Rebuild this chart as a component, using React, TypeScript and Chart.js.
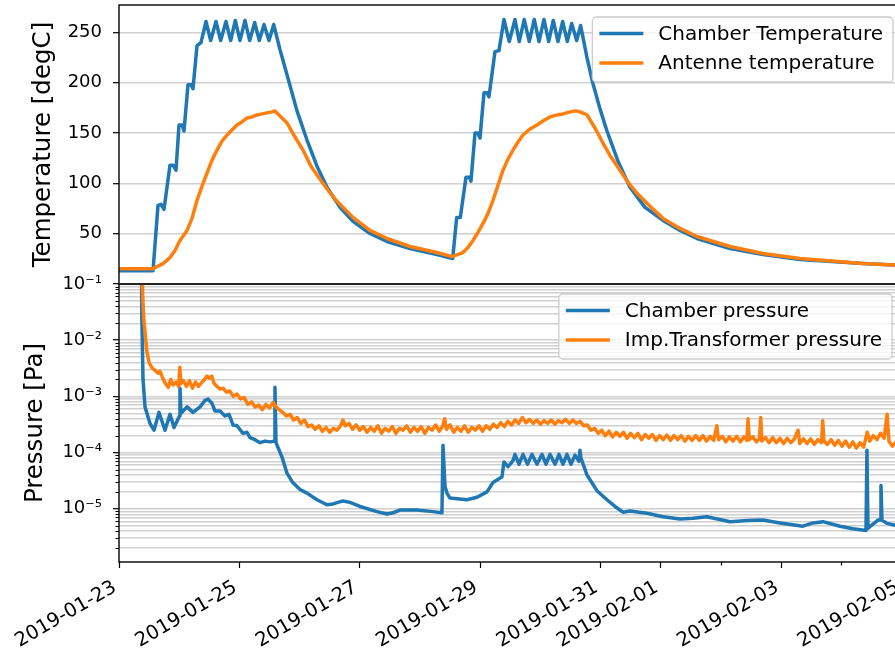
import React, { useEffect, useRef } from 'react';
import { Chart, registerables } from 'chart.js';

Chart.register(...registerables);

// ---------- axes / ticks ----------
const START_DATE = '2019-01-23';
const majorDateTicks = ['2019-01-23', '2019-01-25', '2019-01-27', '2019-01-29', '2019-01-31', '2019-02-01', '2019-02-03', '2019-02-05'];
const minorDateTicks = ['2019-02-02', '2019-02-04'];
const VIEW_END_DAY = 13.057;

const temperatureTicks = [50, 100, 150, 200, 250];
const TEMP_MIN = -0.3;
const TEMP_MAX = 277.4;

const pressureDecades = [1e-5, 1e-4, 1e-3, 1e-2, 1e-1];
const pressureTickLabels = ['10⁻⁵', '10⁻⁴', '10⁻³', '10⁻²', '10⁻¹'];
const PRESSURE_MIN = 1.13e-6;
const PRESSURE_MAX = 0.1;

// ---------- temperature data (days since 2019-01-23, degC) ----------
const chamberTempDay = [0, 0.565, 0.648, 0.698, 0.748, 0.847, 0.897, 0.947, 0.997, 1.047, 1.08, 1.146, 1.196, 1.229, 1.296, 1.362,
  1.445, 1.523, 1.611, 1.689, 1.777, 1.855, 1.932, 2.01, 2.093, 2.171, 2.254, 2.331, 2.409, 2.492, 2.57,
  2.674, 2.791, 2.957, 3.123, 3.289, 3.455, 3.671, 3.887, 4.169, 4.452, 4.834, 5.282, 5.543,
  5.61, 5.67, 5.764, 5.822, 5.847, 5.914, 5.963, 5.997, 6.063, 6.113, 6.146, 6.246, 6.312,
  6.395, 6.483, 6.578, 6.649, 6.732, 6.815, 6.898, 6.977, 7.06, 7.138, 7.214, 7.292, 7.37, 7.447, 7.52, 7.603, 7.669,
  7.774, 7.874, 7.99, 8.106, 8.289, 8.488, 8.738, 9.037, 9.319, 9.601, 10.15, 10.698, 11.312, 12.359, 13.05];
const chamberTempC = [13, 13, 78, 79, 74, 118, 118, 113, 158, 158, 152, 198, 198, 194, 237, 240,
  261, 242, 261, 242, 261, 242, 262, 242, 262, 242, 260, 242, 258, 242, 258,
  233, 208, 172, 143, 117, 96, 76, 62, 50, 42, 35, 29, 25,
  66, 66, 106, 106, 102, 150, 150, 145, 190, 190, 186, 231, 232,
  263, 241, 263, 241, 263, 241, 263, 241, 263, 241, 262, 241, 261, 241, 259, 242, 257,
  225, 199, 174, 152, 122, 96, 76, 63, 53, 45, 35, 29, 24, 20, 18];

const antennaTempDay = [0, 0.565, 0.631, 0.731, 0.847, 0.93, 1.013, 1.13, 1.213, 1.296, 1.379, 1.462, 1.545, 1.628, 1.711, 1.794, 1.877,
  1.96, 2.043, 2.126, 2.209, 2.292, 2.375, 2.458, 2.542, 2.591, 2.674, 2.791, 2.924, 3.056, 3.189, 3.339, 3.472, 3.621,
  3.887, 4.169, 4.452, 4.834, 5.282, 5.532, 5.714, 5.797, 5.88, 5.963, 6.047, 6.13, 6.213, 6.296, 6.379, 6.462, 6.545,
  6.628, 6.711, 6.827, 6.944, 7.043, 7.159, 7.276, 7.375, 7.492, 7.591, 7.658, 7.774, 7.907, 8.04, 8.173, 8.322, 8.455,
  8.605, 8.821, 9.037, 9.319, 9.601, 10.15, 10.698, 11.312, 12.359, 13.05];
const antennaTempC = [15, 15, 17, 20, 26, 33, 43, 53, 65, 83, 97, 110, 123, 133, 142, 148, 153,
  158, 161, 165, 166, 168, 169, 170, 171, 172, 167, 160, 146, 133, 117, 104, 93, 82,
  66, 53, 45, 37, 31, 27, 31, 36, 43, 51, 60, 70, 83, 98, 113, 124, 133,
  141, 148, 154, 158, 162, 166, 168, 169, 171, 172, 171, 168, 155, 140, 126, 113, 101,
  90, 77, 65, 55, 47, 37, 30, 25, 20, 18];

// ---------- pressure data (days since 2019-01-23, Pa) ----------
const chamberPressDay = [0.37, 0.374, 0.382, 0.399, 0.432, 0.515, 0.581, 0.664, 0.764, 0.847, 0.914, 1.005, 1.013, 1.03,
  1.13, 1.229, 1.346, 1.429, 1.478, 1.545, 1.595, 1.678, 1.761, 1.827, 1.894, 1.96, 2.06, 2.126, 2.176, 2.259, 2.342,
  2.425, 2.508, 2.575, 2.591, 2.608, 2.708, 2.791, 2.89, 3.007, 3.123, 3.289, 3.455, 3.555, 3.721, 3.837, 4.003,
  4.286, 4.452, 4.552, 4.668, 4.95, 5.216, 5.365, 5.382, 5.415, 5.449, 5.498, 5.781, 5.947, 6.113, 6.213, 6.279,
  6.362, 6.395, 6.462, 6.545, 6.578, 6.645, 6.711, 6.786, 6.86, 6.944, 7.027, 7.093, 7.159, 7.243, 7.309, 7.375,
  7.442, 7.508, 7.575, 7.641, 7.658, 7.674, 7.774, 7.94, 8.106, 8.239, 8.372, 8.488, 8.771, 9.037, 9.319, 9.535,
  9.767, 10.15, 10.432, 10.698, 10.98, 11.362, 11.528, 11.694, 11.977, 12.193, 12.409, 12.425, 12.442, 12.475,
  12.608, 12.65, 12.658, 12.674, 12.757, 12.89, 13.05];
const chamberPressPa = [100, 100, 0.03, 2e-3, 6.5e-4, 3.3e-4, 2.5e-4, 5.2e-4, 2.5e-4, 4.8e-4, 2.8e-4, 4.5e-4, 1.4e-3, 5e-4,
  6.5e-4, 5.2e-4, 6.5e-4, 8.5e-4, 9e-4, 7.5e-4, 5.5e-4, 5.5e-4, 4.5e-4, 4.8e-4, 3.1e-4, 3.0e-4, 2.2e-4, 2.3e-4, 1.85e-4, 1.7e-4, 1.5e-4,
  1.6e-4, 1.55e-4, 1.6e-4, 1.45e-3, 1.5e-4, 8.3e-5, 4.3e-5, 2.9e-5, 2.2e-5, 1.9e-5, 1.45e-5, 1.18e-5, 1.22e-5, 1.38e-5, 1.3e-5, 1.1e-5,
  8.9e-6, 8.1e-6, 8.5e-6, 9.5e-6, 9.5e-6, 8.9e-6, 8.5e-6, 1.35e-4, 2.5e-5, 1.9e-5, 1.55e-5, 1.45e-5, 1.6e-5, 2.0e-5, 2.95e-5, 3.25e-5,
  3.7e-5, 6.8e-5, 5.6e-5, 7.2e-5, 9.3e-5, 6.2e-5, 9.3e-5, 6.2e-5, 9.3e-5, 6.2e-5, 9.3e-5, 6.2e-5, 9.3e-5, 6.2e-5, 9.3e-5, 6.2e-5,
  9.3e-5, 6.2e-5, 9.0e-5, 7e-5, 1.1e-4, 8e-5, 4.0e-5, 2.1e-5, 1.45e-5, 1.1e-5, 8.7e-6, 9.1e-6, 8.3e-6, 7.2e-6, 6.6e-6, 6.8e-6,
  7.2e-6, 5.9e-6, 6.2e-6, 6.3e-6, 5.6e-6, 4.9e-6, 5.6e-6, 5.9e-6, 4.9e-6, 4.4e-6, 4.1e-6, 1.1e-4, 4.5e-6, 4.8e-6,
  6.3e-6, 6.3e-6, 2.6e-5, 6.3e-6, 5.5e-6, 5.1e-6, 5.0e-6];

const transformerPressDay = [0.37, 0.385, 0.39, 0.41, 0.43, 0.46, 0.5, 0.55, 0.6, 0.65, 0.68, 0.72, 0.77, 0.82, 0.86, 0.9, 0.95, 0.99,
  1.01, 1.03, 1.07, 1.12, 1.17, 1.22, 1.27, 1.32, 1.37, 1.42, 1.46, 1.5, 1.54, 1.58, 1.63, 1.68, 1.73, 1.78, 1.84, 1.9, 1.96,
  2.02, 2.08, 2.14, 2.2, 2.26, 2.32, 2.38, 2.44, 2.5, 2.56, 2.61, 2.66, 2.72, 2.78, 2.84, 2.9, 2.96, 3.02, 3.08, 3.14, 3.2,
  3.26, 3.32, 3.38, 3.44, 3.5, 3.56, 3.62, 3.68, 3.72, 3.76, 3.82, 3.88, 3.94, 4.0, 4.06, 4.12, 4.18, 4.24, 4.3, 4.36, 4.42,
  4.48, 4.54, 4.6, 4.66, 4.72, 4.78, 4.84, 4.9, 4.96, 5.02, 5.08, 5.14, 5.2, 5.26, 5.32, 5.38, 5.41, 5.44, 5.5, 5.56, 5.62,
  5.68, 5.74, 5.8, 5.86, 5.92, 5.98, 6.04, 6.1, 6.16, 6.22, 6.28, 6.34, 6.4, 6.46, 6.52, 6.58, 6.64, 6.7, 6.76, 6.82, 6.88,
  6.94, 7.0, 7.06, 7.12, 7.18, 7.24, 7.3, 7.36, 7.42, 7.48, 7.54, 7.6, 7.66, 7.72, 7.78, 7.84, 7.9, 7.96, 8.02, 8.08, 8.14,
  8.2, 8.26, 8.32, 8.38, 8.44, 8.5, 8.56, 8.62, 8.68, 8.74, 8.8, 8.86, 8.92, 8.98, 9.04, 9.1, 9.16, 9.22, 9.28, 9.34, 9.4,
  9.46, 9.52, 9.58, 9.64, 9.7, 9.76, 9.82, 9.88, 9.93, 9.96, 10.02, 10.08, 10.14, 10.2, 10.26, 10.32, 10.38, 10.43, 10.45,
  10.47, 10.53, 10.59, 10.64, 10.66, 10.68, 10.74, 10.8, 10.86, 10.92, 10.98, 11.04, 11.1, 11.16, 11.22, 11.28, 11.31, 11.37,
  11.43, 11.49, 11.55, 11.61, 11.67, 11.69, 11.71, 11.77, 11.83, 11.89, 11.95, 12.01, 12.07, 12.13, 12.19, 12.25, 12.31,
  12.37, 12.43, 12.47, 12.53, 12.59, 12.65, 12.71, 12.76, 12.79, 12.85, 12.91, 12.97, 13.03];
const transformerPressPa = [100, 100, 0.08, 0.025, 0.015, 6.6e-3, 4.0e-3, 3.2e-3, 2.9e-3, 2.6e-3, 2.8e-3, 2.2e-3, 1.7e-3, 1.45e-3, 2.0e-3, 1.6e-3, 1.8e-3, 1.5e-3,
  3.3e-3, 1.7e-3, 1.9e-3, 1.5e-3, 1.9e-3, 1.4e-3, 1.8e-3, 1.5e-3, 1.75e-3, 2.0e-3, 2.3e-3, 2.1e-3, 2.3e-3, 1.7e-3, 1.5e-3, 1.35e-3, 1.4e-3, 1.2e-3, 1.25e-3, 1.0e-3, 1.1e-3,
  0.9e-3, 0.95e-3, 0.72e-3, 0.8e-3, 0.65e-3, 0.7e-3, 0.58e-3, 0.72e-3, 0.62e-3, 0.78e-3, 0.65e-3, 0.58e-3, 0.52e-3, 0.45e-3, 0.48e-3, 0.38e-3, 0.42e-3, 0.33e-3, 0.38e-3, 0.29e-3, 0.31e-3,
  0.26e-3, 0.3e-3, 0.24e-3, 0.28e-3, 0.23e-3, 0.27e-3, 0.25e-3, 0.3e-3, 0.38e-3, 0.3e-3, 0.33e-3, 0.26e-3, 0.31e-3, 0.25e-3, 0.29e-3, 0.23e-3, 0.28e-3, 0.24e-3, 0.3e-3, 0.22e-3, 0.27e-3,
  0.24e-3, 0.29e-3, 0.22e-3, 0.27e-3, 0.25e-3, 0.3e-3, 0.23e-3, 0.28e-3, 0.24e-3, 0.29e-3, 0.22e-3, 0.28e-3, 0.25e-3, 0.31e-3, 0.24e-3, 0.3e-3, 0.4e-3, 0.26e-3, 0.31e-3, 0.23e-3, 0.28e-3,
  0.24e-3, 0.3e-3, 0.23e-3, 0.28e-3, 0.25e-3, 0.3e-3, 0.24e-3, 0.3e-3, 0.26e-3, 0.32e-3, 0.28e-3, 0.34e-3, 0.29e-3, 0.36e-3, 0.31e-3, 0.38e-3, 0.33e-3, 0.42e-3, 0.34e-3, 0.39e-3, 0.33e-3,
  0.38e-3, 0.32e-3, 0.37e-3, 0.33e-3, 0.38e-3, 0.32e-3, 0.37e-3, 0.34e-3, 0.39e-3, 0.33e-3, 0.38e-3, 0.33e-3, 0.36e-3, 0.3e-3, 0.31e-3, 0.25e-3, 0.27e-3, 0.22e-3, 0.25e-3, 0.2e-3, 0.24e-3,
  0.19e-3, 0.23e-3, 0.195e-3, 0.23e-3, 0.18e-3, 0.22e-3, 0.185e-3, 0.22e-3, 0.17e-3, 0.21e-3, 0.18e-3, 0.21e-3, 0.165e-3, 0.2e-3, 0.17e-3, 0.205e-3, 0.165e-3, 0.2e-3, 0.17e-3, 0.2e-3, 0.16e-3,
  0.195e-3, 0.165e-3, 0.2e-3, 0.165e-3, 0.2e-3, 0.16e-3, 0.195e-3, 0.165e-3, 0.3e-3, 0.17e-3, 0.195e-3, 0.155e-3, 0.19e-3, 0.16e-3, 0.195e-3, 0.155e-3, 0.19e-3, 0.165e-3, 0.4e-3,
  0.17e-3, 0.19e-3, 0.155e-3, 0.18e-3, 0.42e-3, 0.16e-3, 0.185e-3, 0.15e-3, 0.185e-3, 0.15e-3, 0.18e-3, 0.145e-3, 0.18e-3, 0.15e-3, 0.175e-3, 0.25e-3, 0.145e-3, 0.175e-3,
  0.145e-3, 0.175e-3, 0.14e-3, 0.17e-3, 0.15e-3, 0.37e-3, 0.16e-3, 0.14e-3, 0.17e-3, 0.135e-3, 0.165e-3, 0.13e-3, 0.16e-3, 0.125e-3, 0.155e-3, 0.12e-3, 0.15e-3,
  0.125e-3, 0.23e-3, 0.16e-3, 0.2e-3, 0.17e-3, 0.22e-3, 0.18e-3, 0.48e-3, 0.16e-3, 0.13e-3, 0.155e-3, 0.14e-3, 0.15e-3];

// ---------- helpers ----------
const BLUE = '#1f77b4';
const ORANGE = '#ff7f0e';
const FONT = '"DejaVu Sans", "Liberation Sans", sans-serif';

const dayOf = (s: string) => (Date.parse(s + 'T00:00:00Z') - Date.parse(START_DATE + 'T00:00:00Z')) / 864e5;
const pts = (xs: number[], ys: number[]) => xs.map((x, i) => ({ x, y: ys[i] }));
const isDecade = (v: number) => Math.abs(Math.log10(v) - Math.round(Math.log10(v))) < 1e-6;

const lineStyle = (color: string) => ({
  borderColor: color,
  backgroundColor: color,
  borderWidth: 3.5,
  pointRadius: 0,
  tension: 0,
  borderJoinStyle: 'round' as const,
  borderCapStyle: 'butt' as const,
  fill: false,
});

const noPad = (s: any) => {
  s.paddingLeft = 0;
  s.paddingRight = 0;
  s.paddingTop = 0;
  s.paddingBottom = 0;
};

const framePlugin = {
  id: 'frame',
  afterDatasetsDraw(chart: any) {
    const { ctx, chartArea: a } = chart;
    ctx.save();
    ctx.strokeStyle = '#000';
    ctx.lineWidth = 1.4;
    ctx.strokeRect(a.left, a.top, a.right - a.left, a.bottom - a.top);
    ctx.restore();
  },
};

const makeLegend = (offRight: number, offTop: number) => ({
  id: 'boxLegend',
  afterDraw(chart: any) {
    const { ctx, chartArea } = chart;
    ctx.save();
    ctx.font = `20px ${FONT}`;
    const items = chart.data.datasets;
    const textW = Math.max(...items.map((d: any) => ctx.measureText(d.label).width));
    const padL = 7, handleW = 44, gap = 15, padR = 10, rowH = 29.5, padT = 16.5, h = 65;
    const w = padL + handleW + gap + textW + padR;
    const right = chartArea.right - offRight;
    const top = chartArea.top + offTop;
    const left = right - w;
    ctx.beginPath();
    ctx.roundRect(left, top, w, h, 4);
    ctx.fillStyle = 'rgba(255,255,255,0.8)';
    ctx.fill();
    ctx.strokeStyle = '#cccccc';
    ctx.lineWidth = 1.3;
    ctx.stroke();
    items.forEach((d: any, i: number) => {
      const y = top + padT + i * rowH;
      ctx.beginPath();
      ctx.moveTo(left + padL, y);
      ctx.lineTo(left + padL + handleW, y);
      ctx.strokeStyle = d.borderColor;
      ctx.lineWidth = 3.5;
      ctx.stroke();
      ctx.fillStyle = '#000';
      ctx.textBaseline = 'middle';
      ctx.textAlign = 'left';
      ctx.fillText(d.label, left + padL + handleW + gap, y + 1);
    });
    ctx.restore();
  },
});

const minorTickPlugin = {
  id: 'minorTicks',
  afterDatasetsDraw(chart: any) {
    const { ctx, chartArea: a } = chart;
    const ys = chart.scales.y;
    const xs = chart.scales.x;
    ctx.save();
    ctx.strokeStyle = '#000';
    ctx.lineWidth = 1.2;
    ctx.beginPath();
    ys.ticks.forEach((t: any) => {
      if (!isDecade(t.value)) {
        const py = Math.round(ys.getPixelForValue(t.value)) + 0.5;
        ctx.moveTo(a.left - 3.5, py);
        ctx.lineTo(a.left, py);
      }
    });
    minorDateTicks.forEach((s) => {
      const px = Math.round(xs.getPixelForValue(dayOf(s))) + 0.5;
      ctx.moveTo(px, a.bottom);
      ctx.lineTo(px, a.bottom + 3.5);
    });
    ctx.stroke();
    ctx.restore();
  },
};

const GRID = 'rgba(176,176,176,0.6)';

export default function App() {
  const topRef = useRef<HTMLCanvasElement>(null);
  const botRef = useRef<HTMLCanvasElement>(null);

  useEffect(() => {
    const xCommon = { type: 'linear' as const, min: 0, max: VIEW_END_DAY };

    const top = new Chart(topRef.current!, {
      type: 'line',
      data: {
        datasets: [
          { label: 'Chamber Temperature', data: pts(chamberTempDay, chamberTempC), order: 1, ...lineStyle(BLUE) },
          { label: 'Antenne temperature', data: pts(antennaTempDay, antennaTempC), order: 0, ...lineStyle(ORANGE) },
        ],
      },
      options: {
        responsive: false,
        animation: false,
        devicePixelRatio: 1,
        events: [],
        layout: { padding: { top: 5, bottom: 6, left: 0, right: 5 } },
        plugins: { legend: { display: false }, tooltip: { enabled: false } },
        scales: {
          x: { ...xCommon, display: false, afterFit: noPad },
          y: {
            type: 'linear',
            min: TEMP_MIN,
            max: TEMP_MAX,
            afterBuildTicks: (s: any) => { s.ticks = temperatureTicks.map((v) => ({ value: v })); },
            afterFit: (s: any) => { s.width = 119; noPad(s); },
            border: { display: false },
            grid: { color: GRID, lineWidth: 1.4, tickColor: '#000', tickLength: 6, tickWidth: 1.2 },
            ticks: { font: { family: FONT, size: 18 }, color: '#000', padding: 11, callback: (v: any) => String(v) },
            title: { display: true, text: 'Temperature [degC]', font: { family: FONT, size: 24.5 }, color: '#000', padding: { top: 29, bottom: 0 } },
          },
        },
      },
      plugins: [framePlugin, makeLegend(12, 12)],
    });

    const pressureTickValues: number[] = [];
    for (let e = -7; e <= -2; e++) {
      for (let m = 1; m <= 9; m++) {
        const v = Number((m * Math.pow(10, e)).toPrecision(3));
        if (v >= PRESSURE_MIN && v <= PRESSURE_MAX) pressureTickValues.push(v);
      }
    }
    pressureTickValues.push(PRESSURE_MAX);

    const majorDays = majorDateTicks.map(dayOf);
    const allDateDays = [...majorDays, ...minorDateTicks.map(dayOf)].sort((a, b) => a - b);

    const bot = new Chart(botRef.current!, {
      type: 'line',
      data: {
        datasets: [
          { label: 'Chamber pressure', data: pts(chamberPressDay, chamberPressPa), order: 1, ...lineStyle(BLUE) },
          { label: 'Imp.Transformer pressure', data: pts(transformerPressDay, transformerPressPa), order: 0, ...lineStyle(ORANGE) },
        ],
      },
      options: {
        responsive: false,
        animation: false,
        devicePixelRatio: 1,
        events: [],
        layout: { padding: { top: 24, bottom: 0, left: 0, right: 5 } },
        plugins: { legend: { display: false }, tooltip: { enabled: false } },
        scales: {
          x: {
            ...xCommon,
            afterBuildTicks: (s: any) => { s.ticks = allDateDays.map((v) => ({ value: v })); },
            afterFit: (s: any) => { s.height = 92; noPad(s); },
            border: { display: false },
            grid: {
              drawOnChartArea: false,
              drawTicks: true,
              tickLength: 6,
              tickWidth: 1.2,
              tickColor: (c: any) => (majorDays.some((d) => Math.abs(d - c.tick?.value) < 1e-6) ? '#000' : 'rgba(0,0,0,0)'),
            },
            ticks: {
              autoSkip: false,
              minRotation: 30,
              maxRotation: 30,
              padding: 8,
              labelOffset: -4,
              font: { family: FONT, size: 19.5 },
              color: '#000',
              callback: (v: any) => {
                const i = majorDays.findIndex((d) => Math.abs(d - v) < 1e-6);
                return i >= 0 ? majorDateTicks[i] : '';
              },
            },
          },
          y: {
            type: 'logarithmic',
            min: PRESSURE_MIN,
            max: PRESSURE_MAX,
            afterBuildTicks: (s: any) => { s.ticks = pressureTickValues.map((v) => ({ value: v, major: isDecade(v) })); },
            afterFit: (s: any) => { s.width = 119; noPad(s); },
            border: { display: false },
            grid: {
              color: GRID,
              lineWidth: 1.4,
              tickLength: 6,
              tickWidth: 1.2,
              tickColor: (c: any) => (c.tick && isDecade(c.tick.value) ? '#000' : 'rgba(0,0,0,0)'),
            },
            ticks: {
              font: { family: FONT, size: 18 },
              color: '#000',
              padding: 11,
              autoSkip: false,
              callback: (v: any) => {
                const i = pressureDecades.findIndex((d) => Math.abs(Math.log10(d) - Math.log10(v)) < 1e-6);
                return i >= 0 ? pressureTickLabels[i] : '';
              },
            },
            title: { display: true, text: 'Pressure [Pa]', font: { family: FONT, size: 24.5 }, color: '#000', padding: { top: 21, bottom: 0 } },
          },
        },
      },
      plugins: [framePlugin, minorTickPlugin, makeLegend(13, 10)],
    });

    return () => {
      top.destroy();
      bot.destroy();
    };
  }, []);

  return (
    <div style={{ position: 'fixed', left: 0, top: 0, width: 895, height: 654, overflow: 'hidden', background: '#fff' }}>
      <canvas ref={topRef} width={910} height={290} style={{ position: 'absolute', left: 0, top: 0, width: 910, height: 290 }} />
      <canvas ref={botRef} width={910} height={394} style={{ position: 'absolute', left: 0, top: 260, width: 910, height: 394 }} />
    </div>
  );
}
